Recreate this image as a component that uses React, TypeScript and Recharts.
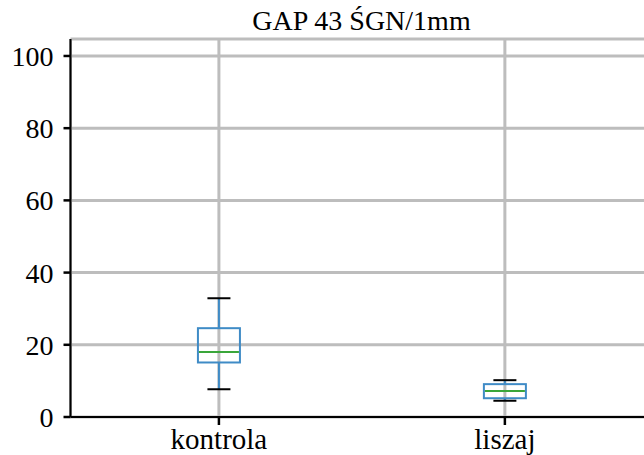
import React from 'react';
import {
  ComposedChart,
  Bar,
  XAxis,
  YAxis,
  CartesianGrid,
} from 'recharts';

const categories = ['kontrola', 'liszaj'];
const positions = [1, 2];
const whiskerLow = [7.7, 4.5];
const q1 = [15.1, 5.2];
const median = [18.0, 7.2];
const q3 = [24.6, 9.1];
const whiskerHigh = [32.9, 10.2];
const yTicks = [0, 20, 40, 60, 80, 100];

const Y_MAX = 104.7;
const FONT = '"Liberation Serif", "Times New Roman", serif';
const BOX_BLUE = '#3f8bc6';
const MEDIAN_GREEN = '#3aa63a';
const GRID = '#bdbdbd';

const data = categories.map((name, i) => ({
  name,
  pos: positions[i],
  range: [whiskerLow[i], whiskerHigh[i]],
  lo: whiskerLow[i],
  q1: q1[i],
  med: median[i],
  q3: q3[i],
  hi: whiskerHigh[i],
}));

function BoxShape(props: any) {
  const { x, y, width, height, payload } = props;
  const { lo, hi } = payload;
  const unit = height / (hi - lo);
  const py = (v: number) => y + (hi - v) * unit;
  const cx = x + width / 2;
  const capHalf = width / 4 + 1;
  return (
    <g>
      <line x1={cx} x2={cx} y1={py(hi)} y2={py(payload.q3)} stroke={BOX_BLUE} strokeWidth={2} />
      <line x1={cx} x2={cx} y1={py(payload.q1)} y2={py(lo)} stroke={BOX_BLUE} strokeWidth={2} />
      <rect
        x={x}
        y={py(payload.q3)}
        width={width}
        height={py(payload.q1) - py(payload.q3)}
        fill="none"
        stroke={BOX_BLUE}
        strokeWidth={2}
      />
      <line x1={x + 1} x2={x + width - 1} y1={py(payload.med)} y2={py(payload.med)} stroke={MEDIAN_GREEN} strokeWidth={2} />
      <line x1={cx - capHalf} x2={cx + capHalf} y1={py(hi)} y2={py(hi)} stroke="#000" strokeWidth={2} />
      <line x1={cx - capHalf} x2={cx + capHalf} y1={py(lo)} y2={py(lo)} stroke="#000" strokeWidth={2} />
    </g>
  );
}

export default function App() {
  return (
    <div
      style={{
        position: 'absolute',
        left: 0,
        top: 0,
        width: 644,
        height: 455,
        background: '#fff',
        fontFamily: FONT,
      }}
    >
      <div
        style={{
          position: 'absolute',
          left: 70,
          width: 583,
          top: 7,
          textAlign: 'center',
          fontSize: 28,
          lineHeight: '28px',
          color: '#000',
        }}
      >
        GAP 43 ŚGN/1mm
      </div>
      <ComposedChart
        width={644}
        height={455}
        data={data}
        margin={{ top: 39, right: -9, bottom: 0, left: 0 }}
        style={{ overflow: 'hidden' }}
      >
        <CartesianGrid stroke={GRID} strokeWidth={3} />
        <XAxis
          type="number"
          dataKey="pos"
          domain={[0.481, 2.518]}
          ticks={positions}
          allowDataOverflow
          tickFormatter={(v: number) => categories[positions.indexOf(v)] ?? ''}
          height={38}
          tickSize={8}
          tickMargin={3}
          axisLine={{ stroke: '#000', strokeWidth: 2 }}
          tickLine={{ stroke: '#000', strokeWidth: 2.5 }}
          tick={{ fill: '#000', fontSize: 29, fontFamily: FONT }}
        />
        <XAxis
          xAxisId="top"
          orientation="top"
          type="number"
          domain={[0.481, 2.518]}
          allowDataOverflow
          height={0}
          tick={false}
          tickLine={false}
          axisLine={{ stroke: '#000', strokeWidth: 2 }}
        />
        <YAxis
          type="number"
          domain={[0, Y_MAX]}
          ticks={yTicks}
          allowDataOverflow
          width={70.5}
          tickSize={7}
          tickMargin={10}
          axisLine={{ stroke: '#000', strokeWidth: 2 }}
          tickLine={{ stroke: '#000', strokeWidth: 2.5 }}
          tick={{ fill: '#000', fontSize: 28, fontFamily: FONT }}
        />
        <Bar dataKey="range" barSize={42} shape={<BoxShape />} isAnimationActive={false} />
      </ComposedChart>
    </div>
  );
}
